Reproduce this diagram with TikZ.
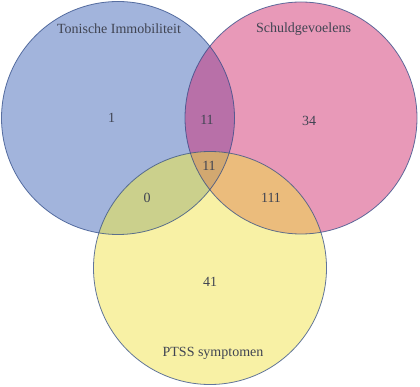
\documentclass[tikz,border=0pt]{standalone}
\usepackage{fontspec}
\setmainfont{Liberation Serif}
\definecolor{cA}{HTML}{A2B4DC}
\definecolor{cB}{HTML}{E899B8}
\definecolor{cC}{HTML}{F8F1A5}
\definecolor{cAB}{HTML}{B870A8}
\definecolor{cAC}{HTML}{CBD08C}
\definecolor{cBC}{HTML}{EBBC7C}
\definecolor{cABC}{HTML}{D2A870}
\definecolor{edge}{HTML}{2E4A86}
\definecolor{txt}{HTML}{404452}
\begin{document}
\begin{tikzpicture}[x=1pt,y=-1pt,
  lbl/.style={font=\fontsize{14}{16}\selectfont, text=txt, inner sep=0pt},
  rim/.style={draw=edge, line width=0.8pt, draw opacity=0.75}]
\useasboundingbox (0,0) rectangle (420,387);
\def\circA{(118,118) circle[radius=116.5]}
\def\circB{(301,118) circle[radius=116]}
\def\circC{(210,268) circle[radius=116.5]}
\fill[cA] \circA;
\fill[cB] \circB;
\fill[cC] \circC;
\begin{scope}\clip \circA; \fill[cAB] \circB; \end{scope}
\begin{scope}\clip \circA; \fill[cAC] \circC; \end{scope}
\begin{scope}\clip \circB; \fill[cBC] \circC; \end{scope}
\begin{scope}\clip \circA; \clip \circB; \fill[cABC] \circC; \end{scope}
\draw[rim] \circA;
\draw[rim] \circB;
\draw[rim] \circC;
\node[lbl] (tA) at (119,29) {Tonische Immobiliteit};
\node[lbl] (tB) at (303.5,29) {Schuldgevoelens};
\node[lbl] (tC) at (213,353) {PTSS symptomen};
\node[lbl] (nA) at (111.5,118) {1};
\node[lbl] (nAB) at (207,120) {11};
\node[lbl] (nB) at (309,121) {34};
\node[lbl] (nABC) at (209,166) {11};
\node[lbl] (nAC) at (147,198) {0};
\node[lbl] (nBC) at (271,198) {111};
\node[lbl] (nC) at (210,282) {41};
\end{tikzpicture}
\end{document}
